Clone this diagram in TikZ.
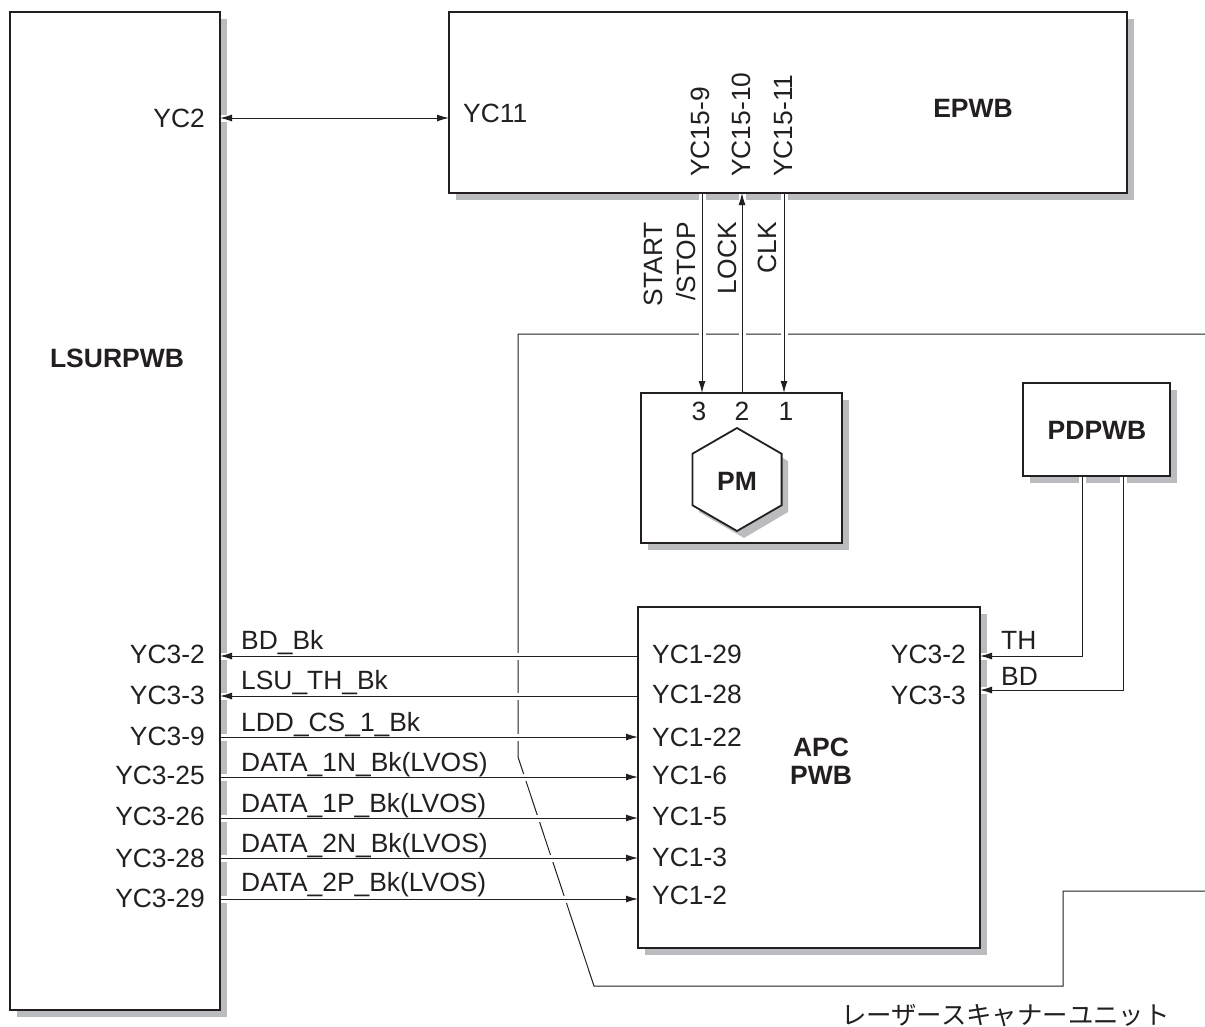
\documentclass[tikz,border=0pt]{standalone}
\usepackage{fontspec}
\setmainfont{Liberation Sans}
\newfontfamily\jpfont{Noto Sans CJK JP}
\usetikzlibrary{arrows.meta,shapes.geometric}
\definecolor{ink}{HTML}{231F20}
\definecolor{shade}{HTML}{BBBCBF}
\pgfdeclarelayer{backl}
\pgfdeclarelayer{halol}
\pgfsetlayers{backl,halol,main}
\tikzset{
 x=1pt,y=-1pt,
 every node/.style={text=ink,font=\fontsize{26.4}{30}\selectfont},
 bold/.style={font=\fontsize{26.5}{30}\selectfont\bfseries},
 blockbox/.style={draw=ink,fill=white,line width=2.2pt,inner sep=0pt,outer sep=0pt},
 lblr/.style={anchor=base east,inner sep=0pt},
 lbll/.style={anchor=base west,inner sep=0pt},
 lblv/.style={rotate=90,anchor=base west,inner sep=0pt},
 lblvtop/.style={rotate=90,anchor=base east,inner sep=0pt},
 lblc/.style={anchor=base,inner sep=0pt},
 shadowfill/.style={fill=shade,draw=none},
 conn/.style={draw=ink,line width=1pt},
 halo/.style={draw=white,line width=7pt},
 tip/.style={-{Latex[length=12pt,width=7pt]}},
 rtip/.style={{Latex[length=12pt,width=7pt]}-},
 boundary/.style={draw=ink,line width=1pt},
}
\newcommand{\boxshadow}[1]{\fill[shadowfill] ([shift={(7,7)}]#1.south west) rectangle ([shift={(7,7)}]#1.north east);}
\begin{document}
\begin{tikzpicture}
\useasboundingbox (0,0) rectangle (1205,1026);
% boxes
\node[blockbox,minimum width=210pt,minimum height=998pt] (lsu) at (115,511) {};
\node[blockbox,minimum width=678pt,minimum height=181pt] (epwb) at (788,102.5) {};
\node[blockbox,minimum width=201pt,minimum height=150pt] (pm) at (741.5,468) {};
\node[blockbox,minimum width=147pt,minimum height=93pt] (pd) at (1096.5,429.5) {};
\node[blockbox,minimum width=342pt,minimum height=341pt] (apc) at (809,777.5) {};
\begin{pgfonlayer}{backl}
\fill[white] (0,0) rectangle (1205,1026);
\boxshadow{lsu}\boxshadow{epwb}\boxshadow{pm}\boxshadow{pd}\boxshadow{apc}
\draw[boundary] (1205,334) -- (518,334) -- (518,757) -- (594,986) -- (1063,986) -- (1063,891) -- (1205,891);
\end{pgfonlayer}
% hexagon
\fill[shadowfill] (744,435) -- (788,461) -- (788,512) -- (744,538) -- (699,512) -- (699,461) -- cycle;
\node[draw=ink,fill=white,line width=1.8pt,regular polygon,regular polygon sides=6,shape border rotate=30,minimum size=103pt,inner sep=0pt] (hex) at (737,479.5) {};
% connectors
\begin{pgfonlayer}{halol}
\draw[halo] (lsu.east |- 0,118) -- (epwb.west |- 0,118);
\foreach \yy in {656,696,737,777,818,858,899}{\draw[halo] (lsu.east |- 0,\yy) -- (apc.west |- 0,\yy);}
\foreach \xx in {702,742,784}{\draw[halo] (epwb.south -| \xx,0) -- (pm.north -| \xx,0);}
\draw[halo] (pd.south -| 1082,0) |- (apc.east |- 0,656);
\draw[halo] (pd.south -| 1123,0) |- (apc.east |- 0,690);
\end{pgfonlayer}
\draw[conn,{Latex[length=12pt,width=7pt]}-{Latex[length=12pt,width=7pt]}] (lsu.east |- 0,118) -- (epwb.west |- 0,118);
\draw[conn,tip] (epwb.south -| 702,0) -- (pm.north -| 702,0);
\draw[conn,rtip] (epwb.south -| 742,0) -- (pm.north -| 742,0);
\draw[conn,tip] (epwb.south -| 784,0) -- (pm.north -| 784,0);
\draw[conn,tip] (pd.south -| 1082,0) |- (apc.east |- 0,656);
\draw[conn,tip] (pd.south -| 1123,0) |- (apc.east |- 0,690);
\draw[conn,rtip] (lsu.east |- 0,656) -- (apc.west |- 0,656);
\draw[conn,rtip] (lsu.east |- 0,696) -- (apc.west |- 0,696);
\foreach \yy in {737,777,818,858,899}{\draw[conn,tip] (lsu.east |- 0,\yy) -- (apc.west |- 0,\yy);}
% bold titles
\node[bold,lblc] (tlsu) at (117,367) {LSURPWB};
\node[bold,lblc] (tepwb) at (973,117) {EPWB};
\node[bold,lblc] (tpd) at (1097,439) {PDPWB};
\node[bold,lblc] (tpm) at (737,490) {PM};
\node[bold,lblc] (tapc) at (821,756) {APC};
\node[bold,lblc] (tpwb) at (821,784) {PWB};
% LSU pins
\node[lblr] (a0) at (205,127) {YC2};
\node[lblr] (a1) at (205,663) {YC3-2};
\node[lblr] (a2) at (205,704) {YC3-3};
\node[lblr] (a3) at (205,745) {YC3-9};
\node[lblr] (a4) at (205,784) {YC3-25};
\node[lblr] (a5) at (205,825) {YC3-26};
\node[lblr] (a6) at (205,867) {YC3-28};
\node[lblr] (a7) at (205,907) {YC3-29};
% signals
\node[lbll] (s1) at (241,649) {BD\_Bk};
\node[lbll] (s2) at (241,689) {LSU\_TH\_Bk};
\node[lbll] (s3) at (241,731) {LDD\_CS\_1\_Bk};
\node[lbll] (s4) at (241,771) {DATA\_1N\_Bk(LVOS)};
\node[lbll] (s5) at (241,812) {DATA\_1P\_Bk(LVOS)};
\node[lbll] (s6) at (241,852) {DATA\_2N\_Bk(LVOS)};
\node[lbll] (s7) at (241,891) {DATA\_2P\_Bk(LVOS)};
% APC pins
\node[lbll] (b1) at (652,663) {YC1-29};
\node[lbll] (b2) at (652,703) {YC1-28};
\node[lbll] (b3) at (652,746) {YC1-22};
\node[lbll] (b4) at (652,784) {YC1-6};
\node[lbll] (b5) at (652,825) {YC1-5};
\node[lbll] (b6) at (652,866) {YC1-3};
\node[lbll] (b7) at (652,904) {YC1-2};
\node[lblr] (c1) at (966,663) {YC3-2};
\node[lblr] (c2) at (966,704) {YC3-3};
\node[lbll] (d1) at (1001,649) {TH};
\node[lbll] (d2) at (1001,685) {BD};
% EPWB
\node[lbll] (e0) at (463,122) {YC11};
\node[lblv] (e1) at (709,177) {YC15-9};
\node[lblv] (e2) at (750,177) {YC15-10};
\node[lblv] (e3) at (792,177) {YC15-11};
% signal labels vertical
\node[lblvtop] (f1) at (662,222) {START};
\node[lblvtop] (f2) at (695,222) {/STOP};
\node[lblvtop] (f3) at (736,222) {LOCK};
\node[lblvtop] (f4) at (776,222) {CLK};
% PM numbers
\node[lblc] (n3) at (699,420) {3};
\node[lblc] (n2) at (742,420) {2};
\node[lblc] (n1) at (786,420) {1};
% unit label
\node[lbll,font=\fontsize{25.4}{30}\selectfont\jpfont] (u) at (841,1024) {レーザースキャナーユニット};
\end{tikzpicture}
\end{document}
